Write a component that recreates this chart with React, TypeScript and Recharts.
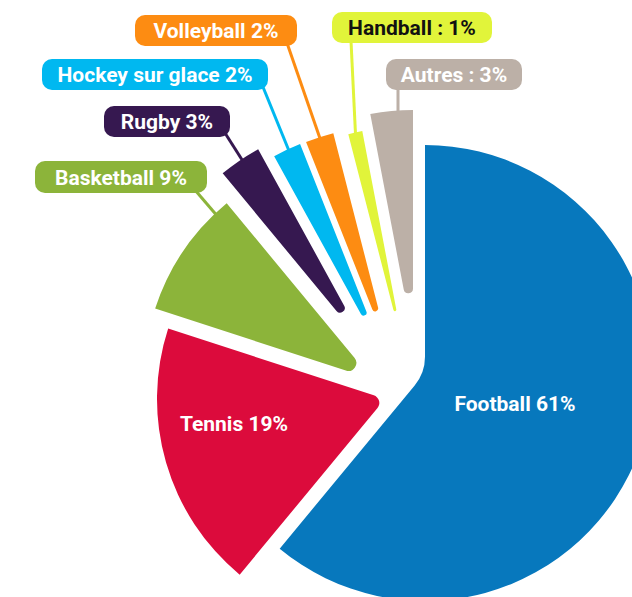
import React from "react";
import { PieChart, Pie, Cell } from "recharts";

const SPORTS = ["Football", "Tennis", "Basketball", "Rugby", "Hockey sur glace", "Volleyball", "Handball", "Autres"];
const SHARES = [61, 19, 9, 3, 2, 2, 1, 3];
const LABELS = ["Football 61%", "Tennis 19%", "Basketball 9%", "Rugby 3%", "Hockey sur glace 2%", "Volleyball 2%", "Handball : 1%", "Autres : 3%"];

const COLORS = ["#0778bd", "#dc0b3c", "#8cb43a", "#361850", "#00b8f0", "#fd8c12", "#e1f43a", "#bcb0a7"];
const TEXT_COLORS = ["#fff", "#fff", "#fff", "#fff", "#fff", "#fff", "#111", "#fff"];

// how far each slice is pulled away from the pie centre (px)
const SHIFT: [number, number][] = [[18, -16], [-22, 10], [-35, -10], [-39, -40], [-23, -33], [-17, -35], [-2, -34], [6, -51]];

// labels drawn inside the two big slices
const INNER_LABEL: Record<number, [number, number]> = { 0: [515, 403], 1: [234, 423] };
// callout boxes: x, y, w, h, leader start x/y, where the leader meets the slice (0..1 of its arc)
const CALLOUT: Record<number, { x: number; y: number; w: number; h: number; lx: number; ly: number; f: number }> = {
  2: { x: 35, y: 161, w: 172, h: 32, lx: 195, ly: 190, f: 0.88 },
  3: { x: 104, y: 106, w: 126, h: 31, lx: 225, ly: 133, f: 0.55 },
  4: { x: 42, y: 59, w: 226, h: 31, lx: 263, ly: 87, f: 0.55 },
  5: { x: 135, y: 15, w: 162, h: 31, lx: 287, ly: 43, f: 0.5 },
  6: { x: 332, y: 12, w: 160, h: 31, lx: 351, ly: 41, f: 0.5 },
  7: { x: 386, y: 59, w: 136, h: 31, lx: 398, ly: 88, f: 0.65 },
};

const R = 228;
const MAX_CORNER = 8;
const TIP_DIST = 45;
const CONCAVE_R = 45;
const FONT = "Roboto, 'Noto Sans', sans-serif";
const FONT_SIZE = 21;
const RAD = Math.PI / 180;

const data = SPORTS.map((sport, i) => ({ sport, share: SHARES[i] }));

function polar(cx: number, cy: number, r: number, a: number): [number, number] {
  return [cx + r * Math.cos(-a * RAD), cy + r * Math.sin(-a * RAD)];
}
const pt = (p: [number, number]) => `${p[0].toFixed(2)},${p[1].toFixed(2)}`;

function SliceShape(props: any) {
  const { cx, cy, startAngle, endAngle } = props;
  const name = props.sport ?? props.payload?.sport ?? props.name;
  const i = SPORTS.indexOf(name);
  const [sx, sy] = SHIFT[i];
  const x0 = cx + sx;
  const y0 = cy + sy;
  const span = Math.abs(startAngle - endAngle);
  const half = (span / 2) * RAD;
  const concave = span > 180;
  let rc: number;
  let t: number;
  if (concave) {
    rc = CONCAVE_R;
    t = rc / Math.tan(Math.PI - half);
  } else {
    const s = Math.sin(half);
    rc = Math.min(MAX_CORNER, (TIP_DIST * s) / (1 - s));
    t = rc / Math.tan(half);
  }
  const p0 = polar(x0, y0, R, startAngle);
  const p1 = polar(x0, y0, R, endAngle);
  const q1 = polar(x0, y0, t, endAngle);
  const q0 = polar(x0, y0, t, startAngle);
  const d = `M${pt(p0)} A${R},${R} 0 ${concave ? 1 : 0} 1 ${pt(p1)} L${pt(q1)} A${rc},${rc} 0 0 ${concave ? 0 : 1} ${pt(q0)} Z`;

  const c = CALLOUT[i];
  const inner = INNER_LABEL[i];
  let callout = null;
  if (c) {
    const a = startAngle + c.f * (endAngle - startAngle);
    const end = polar(x0, y0, R - 1, a);
    callout = (
      <g>
        <line x1={c.lx} y1={c.ly} x2={end[0]} y2={end[1]} stroke={COLORS[i]} strokeWidth={3} />
        <rect x={c.x} y={c.y} width={c.w} height={c.h} rx={10} ry={10} fill={COLORS[i]} />
        <text x={c.x + c.w / 2} y={c.y + c.h / 2 + 7.5} textAnchor="middle" fill={TEXT_COLORS[i]}
          fontFamily={FONT} fontWeight={700} fontSize={FONT_SIZE}>{LABELS[i]}</text>
      </g>
    );
  }
  return (
    <g>
      <path d={d} fill={COLORS[i]} />
      {callout}
      {inner && (
        <text x={inner[0]} y={inner[1] + 7.5} textAnchor="middle" fill={TEXT_COLORS[i]}
          fontFamily={FONT} fontWeight={700} fontSize={FONT_SIZE}>{LABELS[i]}</text>
      )}
    </g>
  );
}

export default function App() {
  return (
    <div style={{ position: "absolute", left: 0, top: 0, width: 632, height: 597, background: "#fff" }}>
      <PieChart width={632} height={597} margin={{ top: 0, right: 0, bottom: 0, left: 0 }}>
        <Pie
          data={data}
          dataKey="share"
          nameKey="sport"
          cx={407}
          cy={389}
          outerRadius={R}
          startAngle={90}
          endAngle={-270}
          stroke="none"
          isAnimationActive={false}
          shape={SliceShape}
        >
          {data.map((d, i) => (
            <Cell key={d.sport} fill={COLORS[i]} />
          ))}
        </Pie>
      </PieChart>
    </div>
  );
}
